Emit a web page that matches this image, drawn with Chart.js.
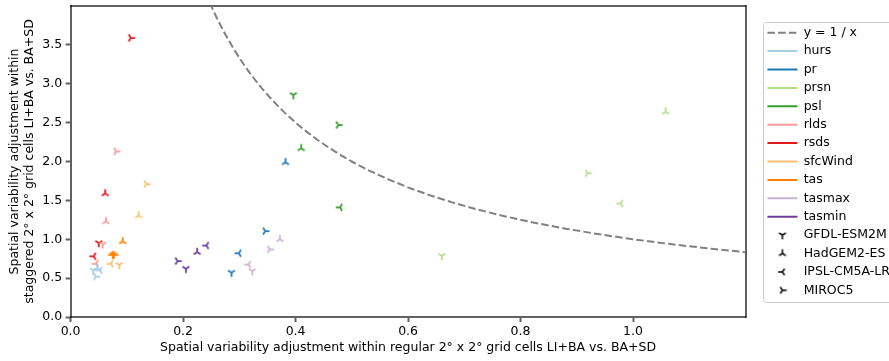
<!DOCTYPE html>
<html>
<head>
<meta charset="utf-8">
<script src="https://cdn.jsdelivr.net/npm/chart.js@4/dist/chart.umd.min.js"></script>
<style>
html,body{margin:0;padding:0;overflow:hidden;background:#fff;width:889px;height:361px}
canvas{display:block}
</style>
</head>
<body>
<canvas id="c" width="900" height="361" style="width:900px;height:361px"></canvas>
<script>
// ---- categories ----
const variables = ['hurs','pr','prsn','psl','rlds','rsds','sfcWind','tas','tasmax','tasmin'];
const colors    = ['#a6cee3','#1f78b4','#b2df8a','#33a02c','#fb9a99','#e31a1c','#fdbf6f','#ff7f00','#cab2d6','#6a3d9a'];
const models    = ['GFDL-ESM2M','HadGEM2-ES','IPSL-CM5A-LR','MIROC5'];
const modelMarkers = ['tri_down','tri_up','tri_left','tri_right'];

// ---- values (model order: GFDL-ESM2M, HadGEM2-ES, IPSL-CM5A-LR, MIROC5) ----
// x: regular 2x2 cells LI+BA vs BA+SD ; y: staggered 2x2 cells LI+BA vs BA+SD
const hursX    = [0.040, 0.048, 0.052, 0.045];
const hursY    = [0.60, 0.63, 0.60, 0.52];
const prX      = [0.286, 0.382, 0.299, 0.346];
const prY      = [0.57, 1.99, 0.82, 1.105];
const prsnX    = [0.660, 1.058, 0.978, 0.919];
const prsnY    = [0.785, 2.64, 1.46, 1.85];
const pslX     = [0.396, 0.410, 0.479, 0.476];
const pslY     = [2.855, 2.17, 1.41, 2.47];
const rldsX    = [0.057, 0.063, 0.045, 0.081];
const rldsY    = [0.935, 1.23, 0.685, 2.13];
const rsdsX    = [0.050, 0.0615, 0.041, 0.107];
const rsdsY    = [0.951, 1.59, 0.781, 3.59];
const sfcWindX = [0.0865, 0.121, 0.0716, 0.1346];
const sfcWindY = [0.67, 1.306, 0.685, 1.71];
const tasX     = [0.076, 0.0925, 0.074, 0.0775];
const tasY     = [0.80, 0.973, 0.80, 0.80];
const tasmaxX  = [0.323, 0.372, 0.316, 0.354];
const tasmaxY  = [0.59, 1.00, 0.675, 0.87];
const tasminX  = [0.205, 0.225, 0.2415, 0.190];
const tasminY  = [0.62, 0.836, 0.92, 0.72];

// reference curve y = 1 / x (sample x positions)
const curveX = [0.24,0.25,0.26,0.27,0.28,0.29,0.30,0.31,0.32,0.33,0.34,0.36,0.38,0.40,0.42,0.44,0.46,0.48,0.50,0.53,0.56,0.60,0.64,0.68,0.72,0.77,0.82,0.88,0.94,1.00,1.07,1.14,1.20];
const curveY = curveX.map(x => 1 / x);

// ---- axis ticks ----
const xTicks = [0.0, 0.2, 0.4, 0.6, 0.8, 1.0];
const yTicks = [0.0, 0.5, 1.0, 1.5, 2.0, 2.5, 3.0, 3.5];

const xTitle = 'Spatial variability adjustment within regular 2° x 2° grid cells LI+BA vs. BA+SD';
const yTitle = ['Spatial variability adjustment within', 'staggered 2° x 2° grid cells LI+BA vs. BA+SD'];

const varX = [hursX, prX, prsnX, pslX, rldsX, rsdsX, sfcWindX, tasX, tasmaxX, tasminX];
const varY = [hursY, prY, prsnY, pslY, rldsY, rsdsY, sfcWindY, tasY, tasmaxY, tasminY];

// ---- tri markers (matplotlib style '1','2','3','4') ----
function makeMarker(kind, color, lw) {
  const s = 12, c = s / 2, r = 4.3;
  const cv = document.createElement('canvas');
  cv.width = s; cv.height = s;
  const g = cv.getContext('2d');
  g.strokeStyle = color; g.lineWidth = lw; g.lineCap = 'butt';
  const base = [[0, 1], [0.8, -0.5], [-0.8, -0.5]]; // tri_down in screen coords
  const th = {tri_down: 0, tri_up: Math.PI, tri_left: Math.PI / 2, tri_right: -Math.PI / 2}[kind];
  g.beginPath();
  base.forEach(([x, y]) => {
    const xr = x * Math.cos(th) - y * Math.sin(th);
    const yr = x * Math.sin(th) + y * Math.cos(th);
    g.moveTo(c, c);
    g.lineTo(c + r * xr, c + r * yr);
  });
  g.stroke();
  return cv;
}
const markerCanvases = colors.map(col => modelMarkers.map(k => makeMarker(k, col, 1.75)));
const legendMarkers = modelMarkers.map(k => makeMarker(k, '#000', 1.5));

const FONT = "'DejaVu Sans', sans-serif";
const FS = 12.5;
Chart.defaults.font.family = FONT;
Chart.defaults.font.size = FS;
Chart.defaults.color = '#000';

const curveColor = '#808080';
const curveDash = [7.5, 3.2];

const datasets = [{
  type: 'line',
  label: 'y = 1 / x',
  data: curveX.map((x, i) => ({x, y: curveY[i]})),
  showLine: true,
  borderColor: curveColor,
  borderWidth: 2,
  borderDash: curveDash,
  pointRadius: 0,
  fill: false,
  tension: 0,
  order: 2
}].concat(variables.map((v, i) => ({
  label: v,
  data: varX[i].map((x, j) => ({x, y: varY[i][j]})),
  pointStyle: ctx => markerCanvases[i][ctx.dataIndex == null ? 0 : ctx.dataIndex],
  pointRadius: 5,
  pointHoverRadius: 5,
  borderColor: colors[i],
  backgroundColor: colors[i],
  showLine: false,
  order: 1
})));

const LEG_PAD = 5.9;
const legendFrame = {
  id: 'legendFrame',
  afterDraw(chart) {
    const lg = chart.legend;
    if (!lg || !lg.columnSizes) return;
    const n = lg.legendItems.length;
    const colH = lg.columnSizes[0].height;
    const startY = ((lg.top + LEG_PAD) + (lg.bottom - colH)) / 2;
    const firstC = startY + FS / 2;
    const lastC = startY + (n - 1) * (FS + LEG_PAD) + FS / 2;
    const x0 = Math.round(lg.left + LEG_PAD - 4) + 0.5;
    const y0 = Math.round(firstC - 11) + 0.5;
    const y1 = Math.round(lastC + 12) + 0.5;
    const x1 = chart.width + 10;
    const ctx = chart.ctx;
    ctx.save();
    ctx.strokeStyle = '#cccccc';
    ctx.lineWidth = 1;
    ctx.beginPath();
    if (ctx.roundRect) ctx.roundRect(x0, y0, x1 - x0, y1 - y0, 3);
    else ctx.rect(x0, y0, x1 - x0, y1 - y0);
    ctx.stroke();
    ctx.restore();
  }
};

const spine = 'rgba(0,0,0,0.62)';
const zeroPad = s => { s.paddingTop = 0; s.paddingBottom = 0; s.paddingLeft = 0; s.paddingRight = 0; };

new Chart(document.getElementById('c'), {
  type: 'scatter',
  data: {datasets},
  options: {
    responsive: false,
    animation: false,
    devicePixelRatio: 1,
    events: [],
    layout: {padding: {top: 4.7, left: 0, right: 0, bottom: 0}},
    plugins: {
      tooltip: {enabled: false},
      legend: {
        position: 'right',
        align: 'center',
        fullSize: false,
        labels: {
          usePointStyle: true,
          pointStyleWidth: 30,
          padding: LEG_PAD,
          color: '#000',
          font: {size: FS, family: FONT},
          generateLabels: () => {
            const items = [{
              text: 'y = 1 / x', pointStyle: 'line', strokeStyle: curveColor, fillStyle: curveColor,
              lineWidth: 2, lineDash: curveDash, hidden: false, datasetIndex: 0
            }];
            variables.forEach((v, i) => items.push({
              text: v, pointStyle: 'line', strokeStyle: colors[i], fillStyle: colors[i],
              lineWidth: 2, lineDash: [], hidden: false, datasetIndex: i + 1
            }));
            models.forEach((m, j) => items.push({
              text: m, pointStyle: legendMarkers[j], strokeStyle: '#000', fillStyle: '#000',
              lineWidth: 0, lineDash: [], hidden: false
            }));
            return items;
          }
        }
      }
    },
    scales: {
      x: {
        type: 'linear', position: 'bottom', min: 0, max: 1.2,
        afterBuildTicks: s => { s.ticks = xTicks.map(v => ({value: v})); },
        afterFit: s => { s.height = 44; zeroPad(s); },
        ticks: {padding: 2, color: '#000', font: {size: FS}, callback: v => Number(v).toFixed(1), maxRotation: 0, autoSkip: false},
        grid: {display: true, drawOnChartArea: false, drawTicks: true, tickLength: 5, tickWidth: 2, tickColor: spine},
        border: {display: true, color: spine, width: 2},
        title: {display: true, text: xTitle, color: '#000', font: {size: FS}, padding: {top: 0, bottom: 5.5}}
      },
      y: {
        type: 'linear', position: 'left', min: 0, max: 4,
        afterBuildTicks: s => { s.ticks = yTicks.map(v => ({value: v})); },
        afterFit: s => { s.width = 70.6; zeroPad(s); },
        ticks: {padding: 3.5, color: '#000', font: {size: FS}, callback: v => Number(v).toFixed(1), autoSkip: false},
        grid: {display: true, drawOnChartArea: false, drawTicks: true, tickLength: 5, tickWidth: 2, tickColor: spine},
        border: {display: true, color: spine, width: 2},
        title: {display: true, text: yTitle, color: '#000', font: {size: FS, lineHeight: 1.2}, padding: {top: 7, bottom: 0}}
      },
      x2: {
        type: 'linear', position: 'top', min: 0, max: 1.2,
        afterFit: s => { s.height = 0; zeroPad(s); },
        ticks: {display: false},
        grid: {display: false},
        border: {display: true, color: spine, width: 2}
      },
      y2: {
        type: 'linear', position: 'right', min: 0, max: 4,
        afterFit: s => { s.width = 16; zeroPad(s); },
        ticks: {display: false},
        grid: {display: false},
        border: {display: true, color: spine, width: 2}
      }
    }
  },
  plugins: [legendFrame]
});
</script>
</body>
</html>
